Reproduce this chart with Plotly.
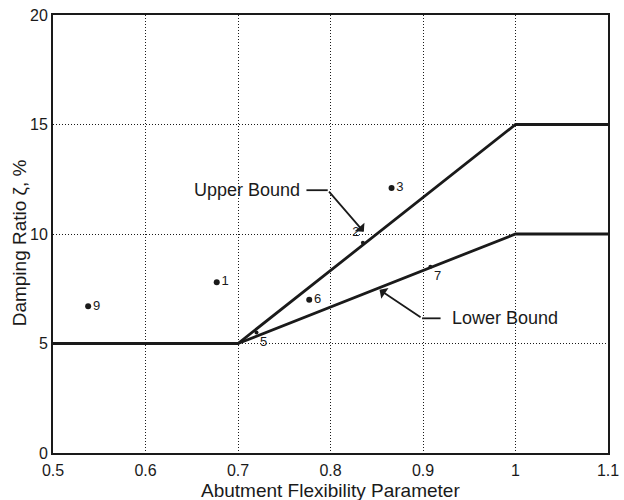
import plotly.graph_objects as go

# Bound curves for damping ratio vs. abutment flexibility
bound_x = [0.5, 0.7, 1.0, 1.1]
upper_y = [5, 5, 15, 15]
lower_x = [0.7, 1.0, 1.1]
lower_y = [5, 10, 10]

# Measured bridge cases
case_ids = ["9", "1", "6", "3"]
case_x = [0.538, 0.677, 0.777, 0.866]
case_y = [6.7, 7.8, 7.0, 12.1]

# Cases lying on the bound lines
on_ids = ["2", "5", "7"]
on_x = [0.835, 0.72, 0.908]
on_y = [9.6, 5.5, 8.5]
on_pos = ["top left", "bottom right", "bottom right"]

x_ticks = [0.5, 0.6, 0.7, 0.8, 0.9, 1.0, 1.1]
x_tick_text = ["0.5", "0.6", "0.7", "0.8", "0.9", "1", "1.1"]
y_ticks = [0, 5, 10, 15, 20]

FONT = "Liberation Sans, Arial, sans-serif"
INK = "#1a1a1a"
GRID_DASH = "1px,2px"

fig = go.Figure()

fig.add_trace(go.Scatter(x=bound_x, y=upper_y, mode="lines",
                         line=dict(color=INK, width=2.8), hoverinfo="skip"))
fig.add_trace(go.Scatter(x=lower_x, y=lower_y, mode="lines",
                         line=dict(color=INK, width=2.8), hoverinfo="skip"))

fig.add_trace(go.Scatter(x=case_x, y=case_y, mode="markers+text",
                         text=case_ids, textposition="middle right",
                         marker=dict(color=INK, size=6),
                         textfont=dict(family=FONT, size=13, color=INK)))
fig.add_trace(go.Scatter(x=on_x, y=on_y, mode="markers+text",
                         text=on_ids, textposition=on_pos,
                         marker=dict(color=INK, size=4),
                         textfont=dict(family=FONT, size=13, color=INK)))

# Leader lines for the bound labels
fig.add_trace(go.Scatter(x=[0.774, 0.797], y=[12.0, 12.0], mode="lines",
                         line=dict(color=INK, width=1.8), hoverinfo="skip"))
fig.add_trace(go.Scatter(x=[0.919, 0.899], y=[6.15, 6.15], mode="lines",
                         line=dict(color=INK, width=1.8), hoverinfo="skip"))

annotations = [
    dict(x=0.769, y=12.0, xref="x", yref="y", text="Upper Bound",
         showarrow=False, xanchor="right", yanchor="middle",
         font=dict(family=FONT, size=18, color=INK)),
    dict(x=0.929, y=6.15, xref="x", yref="y", text="Lower Bound",
         showarrow=False, xanchor="left", yanchor="middle",
         font=dict(family=FONT, size=18, color=INK)),
    dict(x=0.836, y=10.1, ax=0.797, ay=12.0, xref="x", yref="y",
         axref="x", ayref="y", text="", showarrow=True, arrowhead=1,
         arrowsize=1.2, arrowwidth=1.8, arrowcolor=INK),
    dict(x=0.853, y=7.45, ax=0.899, ay=6.15, xref="x", yref="y",
         axref="x", ayref="y", text="", showarrow=True, arrowhead=1,
         arrowsize=1.2, arrowwidth=1.8, arrowcolor=INK),
    dict(x=0.5, y=-0.085, xref="paper", yref="paper",
         text="Abutment Flexibility Parameter", showarrow=False,
         xanchor="center", yanchor="middle",
         font=dict(family=FONT, size=19, color=INK)),
    dict(x=-0.061, y=0.479, xref="paper", yref="paper",
         text="Damping Ratio ζ, %", showarrow=False, textangle=-90,
         xanchor="center", yanchor="middle",
         font=dict(family=FONT, size=19, color=INK)),
]

fig.update_layout(
    width=624, height=500,
    margin=dict(l=53, r=16, t=15, b=47, autoexpand=False),
    paper_bgcolor="white", plot_bgcolor="white",
    showlegend=False,
    annotations=annotations,
    font=dict(family=FONT, size=16, color=INK),
)
fig.update_xaxes(range=[0.5, 1.1], tickvals=x_ticks, ticktext=x_tick_text,
                 showline=True, mirror=True, linecolor=INK, linewidth=2,
                 showgrid=True, gridcolor=INK, gridwidth=1, griddash=GRID_DASH,
                 zeroline=False, ticks="", ticklabelstandoff=2,
                 tickfont=dict(size=16))
fig.update_yaxes(range=[0, 20], tickvals=y_ticks,
                 showline=True, mirror=True, linecolor=INK, linewidth=2,
                 showgrid=True, gridcolor=INK, gridwidth=1, griddash=GRID_DASH,
                 zeroline=False, ticks="", tickfont=dict(size=16))

fig.write_html("out.html")
